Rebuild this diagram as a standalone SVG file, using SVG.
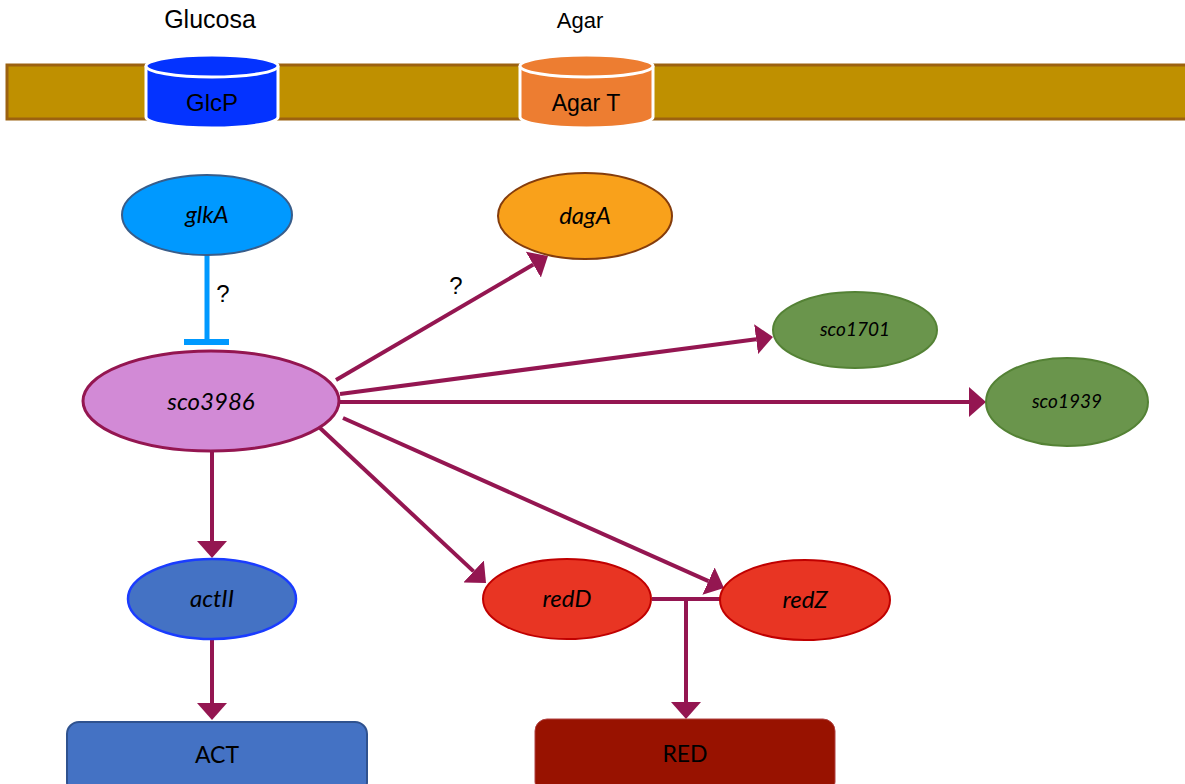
<svg xmlns="http://www.w3.org/2000/svg" width="1185" height="784" viewBox="0 0 1185 784">
<style>
.sans{font-family:"Liberation Sans",Arial,sans-serif;fill:#000}
.ital{font-family:Lato,"Open Sans",sans-serif;font-style:italic;fill:#000}
.box{font-family:Lato,"Open Sans",sans-serif;fill:#000}
.arr{stroke:#941651;stroke-width:4;fill:none;marker-end:url(#ah)}
.cyl{stroke:#fff;stroke-width:3}
</style>
<defs>
<marker id="ah" viewBox="0 0 17 30" refX="0" refY="15" markerWidth="17" markerHeight="30" markerUnits="userSpaceOnUse" orient="auto">
<path d="M0,0 L17,15 L0,30 z" fill="#941651"/>
</marker>
</defs>
<rect width="1185" height="784" fill="#fff"/>
<g id="membrane">
<rect x="7" y="65" width="1185" height="54" fill="#bf9000" stroke="#9c6210" stroke-width="3"/>
</g>
<g id="glucosa-label"><text class="sans" x="210" y="28" font-size="25" text-anchor="middle">Glucosa</text></g>
<g id="agar-label"><text class="sans" x="580" y="28" font-size="22" text-anchor="middle">Agar</text></g>
<g id="GlcP">
<path class="cyl" d="M146,66 L146,117 A66,11 0 0 0 278,117 L278,66" fill="#0433ff"/>
<ellipse class="cyl" cx="212" cy="66" rx="66" ry="11" fill="#0433ff"/>
<text class="sans" x="212" y="111" font-size="24" text-anchor="middle">GlcP</text>
</g>
<g id="AgarT">
<path class="cyl" d="M520,66 L520,117 A66.5,11 0 0 0 653,117 L653,66" fill="#ed7d31"/>
<ellipse class="cyl" cx="586.5" cy="66" rx="66.5" ry="11" fill="#ed7d31"/>
<text class="sans" x="586" y="111" font-size="23" text-anchor="middle">Agar T</text>
</g>
<g id="connectors">
<line x1="207" y1="255" x2="207" y2="342" stroke="#0099ff" stroke-width="5"/>
<line x1="184" y1="342" x2="229" y2="342" stroke="#0099ff" stroke-width="6"/>
<line class="arr" x1="336" y1="380" x2="533.3" y2="264.6"/>
<line class="arr" x1="340" y1="394" x2="756.1" y2="339.2"/>
<line class="arr" x1="340" y1="402" x2="969" y2="402"/>
<line class="arr" x1="320" y1="428" x2="473.6" y2="571.4"/>
<line class="arr" x1="343" y1="418" x2="708.5" y2="581.1"/>
<line class="arr" x1="212" y1="451" x2="212" y2="541"/>
<line class="arr" x1="212" y1="639" x2="212" y2="703"/>
<line x1="652" y1="599" x2="720" y2="599" stroke="#941651" stroke-width="4"/>
<line class="arr" x1="686" y1="599" x2="686" y2="702"/>
<text class="sans" x="223" y="302" font-size="24" text-anchor="middle">?</text>
<text class="sans" x="456" y="294" font-size="24" text-anchor="middle">?</text>
</g>
<g id="glkA">
<ellipse cx="207" cy="215" rx="85" ry="40" fill="#0099ff" stroke="#385d8a" stroke-width="2"/>
<text class="ital" x="207" y="223" font-size="24" text-anchor="middle">glkA</text>
</g>
<g id="dagA">
<ellipse cx="585" cy="216" rx="87" ry="43" fill="#f9a11b" stroke="#843c0c" stroke-width="2"/>
<text class="ital" x="585" y="224" font-size="24" text-anchor="middle">dagA</text>
</g>
<g id="sco3986">
<ellipse cx="211" cy="401" rx="128" ry="50" fill="#d28ad6" stroke="#941651" stroke-width="3"/>
<text class="ital" x="211" y="410" font-size="24" text-anchor="middle">sco3986</text>
</g>
<g id="sco1701">
<ellipse cx="855" cy="330" rx="82" ry="38" fill="#6a954c" stroke="#548235" stroke-width="2"/>
<text class="ital" x="855" y="336" font-size="19" text-anchor="middle">sco1701</text>
</g>
<g id="sco1939">
<ellipse cx="1067" cy="402" rx="81" ry="44" fill="#6a954c" stroke="#548235" stroke-width="2"/>
<text class="ital" x="1067" y="408" font-size="19" text-anchor="middle">sco1939</text>
</g>
<g id="actII">
<ellipse cx="212" cy="599" rx="84" ry="40" fill="#4472c4" stroke="#1a3cff" stroke-width="2.5"/>
<text class="ital" x="212" y="607" font-size="24" text-anchor="middle">actII</text>
</g>
<g id="redD">
<ellipse cx="567" cy="599" rx="84" ry="40" fill="#e83523" stroke="#c00000" stroke-width="2"/>
<text class="ital" x="567" y="607" font-size="24" text-anchor="middle">redD</text>
</g>
<g id="redZ">
<ellipse cx="805" cy="600" rx="85" ry="40" fill="#e83523" stroke="#c00000" stroke-width="2"/>
<text class="ital" x="805" y="608" font-size="24" text-anchor="middle">redZ</text>
</g>
<g id="ACT">
<rect x="67" y="722" width="300" height="72" rx="12" fill="#4472c4" stroke="#2f528f" stroke-width="2"/>
<text class="box" x="217" y="763" font-size="23" text-anchor="middle">ACT</text>
</g>
<g id="RED">
<rect x="535" y="719" width="300" height="75" rx="12" fill="#981200" stroke="#b04040" stroke-width="1"/>
<text class="box" x="685" y="762" font-size="23" text-anchor="middle">RED</text>
</g>
</svg>
